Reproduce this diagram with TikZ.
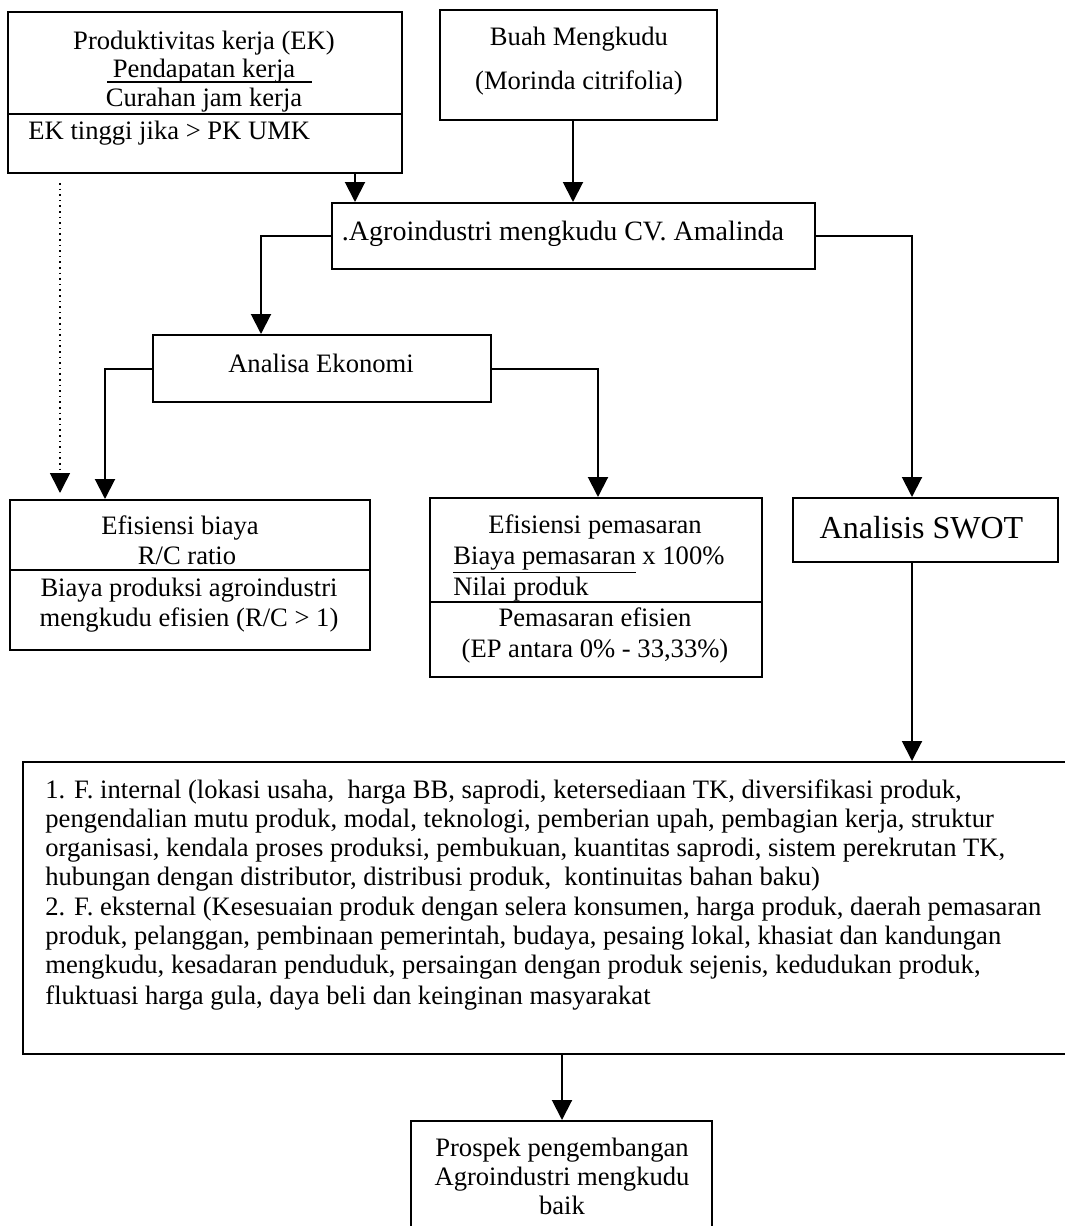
\documentclass[tikz,border=0pt]{standalone}
\usepackage{fontspec}
\setmainfont{Liberation Serif}
\usetikzlibrary{arrows.meta}
\begin{document}
\begin{tikzpicture}[x=0.5pt,y=-0.5pt,
  box/.style={draw, line width=1pt, inner sep=0pt},
  txt/.style={inner sep=0pt, anchor=base, font=\fontsize{13.3}{15}\selectfont},
  ltxt/.style={txt, anchor=base west},
  arr/.style={line width=1pt, -{Triangle[width=10pt,length=10pt]}},
  darr/.style={line width=0.8pt, dotted, -{Triangle[width=10pt,length=10pt]}},
  sep/.style={line width=1pt}]
\useasboundingbox (0,0) rectangle (1065,1226);
\clip (0,0) rectangle (1065,1226);
\fill[white] (0,0) rectangle (1065,1226);

% boxes
\node[box, minimum width=197pt, minimum height=80.5pt] (A) at (205,92.5) {};
\node[box, minimum width=138.5pt, minimum height=55pt] (B) at (578.5,65) {};
\node[box, minimum width=241.5pt, minimum height=33pt] (C) at (573.5,236) {};
\node[box, minimum width=169pt, minimum height=33.5pt] (D) at (322,368.5) {};
\node[box, minimum width=180pt, minimum height=75pt] (E) at (190,575) {};
\node[box, minimum width=166pt, minimum height=89.5pt] (F) at (596,587.5) {};
\node[box, minimum width=132.5pt, minimum height=32pt] (G) at (925.5,530) {};
\node[box, minimum width=526pt, minimum height=146pt] (H) at (549,908) {};
\node[box, minimum width=150.5pt, minimum height=59.5pt] (I) at (561.5,1180.5) {};

% separators inside boxes
\draw[sep] (A.west |- 0,114) -- (A.east |- 0,114);
\draw[sep] (107,82) -- (312,82);
\draw[sep] (E.west |- 0,570) -- (E.east |- 0,570);
\draw[sep] (F.west |- 0,602) -- (F.east |- 0,602);

% texts box A
\node[txt] (a1) at (204,49) {Produktivitas kerja (EK)};
\node[txt] (a2) at (204,77) {Pendapatan kerja};
\node[txt] (a3) at (204,106) {Curahan jam kerja};
\node[ltxt] (a4) at (28,139) {EK tinggi jika > PK UMK};

% box B
\node[txt] (b1) at (579,45) {Buah Mengkudu};
\node[txt] (b2) at (579,89) {(Morinda citrifolia)};

% box C
\node[txt, font=\fontsize{14}{16}\selectfont] (c1) at (563,240) {.Agroindustri mengkudu CV. Amalinda};

% box D
\node[txt] (d1) at (321,372) {Analisa Ekonomi};

% box E
\node[txt] (e1) at (180,534) {Efisiensi biaya};
\node[txt] (e2) at (187,564) {R/C ratio};
\node[txt] (e3) at (189,596) {Biaya produksi agroindustri};
\node[txt] (e4) at (189,626) {mengkudu efisien (R/C > 1)};

% box F
\node[txt] (f1) at (595,533) {Efisiensi pemasaran};
\node[ltxt] (f2) at (453,564) {\underline{Biaya pemasaran} x 100\%};
\node[ltxt] (f3) at (453,595) {Nilai produk};
\node[txt] (f4) at (595,626) {Pemasaran efisien};
\node[txt] (f5) at (595,657) {(EP antara 0\% - 33,33\%)};

% box G
\node[txt, font=\fontsize{16}{18}\selectfont] (g1) at (921.5,538) {Analisis SWOT};

% box H
\node[ltxt] (h1) at (45,798) {1. F. internal (lokasi usaha,\ \ harga BB, saprodi, ketersediaan TK, diversifikasi produk,};
\node[ltxt] (h2) at (45,827) {pengendalian mutu produk, modal, teknologi, pemberian upah, pembagian kerja, struktur};
\node[ltxt] (h3) at (45,856) {organisasi, kendala proses produksi, pembukuan, kuantitas saprodi, sistem perekrutan TK,};
\node[ltxt] (h4) at (45,885) {hubungan dengan distributor, distribusi produk,\ \ kontinuitas bahan baku)};
\node[ltxt] (h5) at (45,915) {2. F. eksternal (Kesesuaian produk dengan selera konsumen, harga produk, daerah pemasaran};
\node[ltxt] (h6) at (45,944) {produk, pelanggan, pembinaan pemerintah, budaya, pesaing lokal, khasiat dan kandungan};
\node[ltxt] (h7) at (45,973) {mengkudu, kesadaran penduduk, persaingan dengan produk sejenis, kedudukan produk,};
\node[ltxt] (h8) at (45,1004) {fluktuasi harga gula, daya beli dan keinginan masyarakat};

% box I
\node[txt] (i1) at (562,1156) {Prospek pengembangan};
\node[txt] (i2) at (562,1185) {Agroindustri mengkudu};
\node[txt] (i3) at (562,1214) {baik};

% connector coordinates
\coordinate (xa) at (355,0);
\coordinate (xb) at (573,0);
\coordinate (xcd) at (261,0);
\coordinate (xde) at (105,0);
\coordinate (xdf) at (598,0);
\coordinate (xg) at (912,0);
\coordinate (xhi) at (562,0);
\coordinate (dtop) at (60,183);

% connectors
\draw[arr] (A.south -| xa) -- (C.north -| xa);
\draw[arr] (B.south -| xb) -- (C.north -| xb);
\draw[arr] (C.west) -| (xcd |- D.north);
\draw[arr] (C.east) -| (xg |- G.north);
\draw[arr] (D.west) -| (xde |- E.north);
\draw[arr] (D.east) -| (xdf |- F.north);
\draw[darr, shorten >=3pt] (dtop) -- (dtop |- E.north);
\draw[arr] (G.south -| xg) -- (H.north -| xg);
\draw[arr] (H.south -| xhi) -- (I.north -| xhi);
\end{tikzpicture}
\end{document}
